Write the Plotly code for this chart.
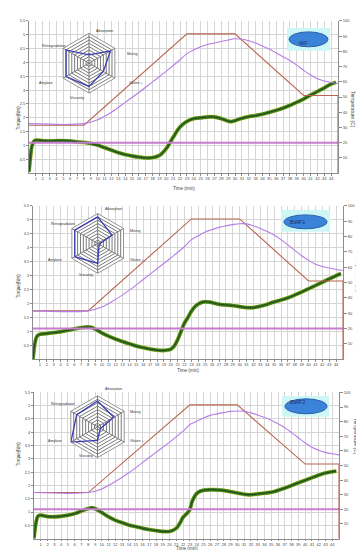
import plotly.graph_objects as go

W, H = 364, 550

# ---------------- data ----------------
MINUTE_TICKS = list(range(1, 45))
TORQUE_TICKS = [0.5, 1, 1.5, 2, 2.5, 3, 3.5, 4, 4.5, 5, 5.5]
TEMP_TICKS = [10, 20, 30, 40, 50, 60, 70, 80, 90, 100]

# temperature program (right axis, deg C)
PROG_T = [0, 8, 23, 30, 40, 45, 45]
PROG_C = [31.5, 31.5, 91.5, 91.5, 51, 51, 0]

# reference temperature line
REF_T = [0, 45]
REF_C = [20, 20]

# measured dough temperature (right axis)
MEAS_T = [0, 8, 10, 12, 14, 16, 18, 20, 22, 23, 24, 25, 26, 27, 28, 29, 30, 31, 32,
          33, 34, 35, 36, 37, 38, 39, 40, 41, 42, 43, 44, 45]
WF_MEAS = [32.5, 32.5, 35, 40, 46.5, 53, 60, 67, 74.5, 78.5, 81, 83, 84.5, 85.5, 86.5,
           87.5, 88.3, 88, 87, 85.5, 83.5, 81.5, 79, 76.5, 74, 71, 67.5, 64.5, 62, 60.5,
           59.5, 59]
BWF1_MEAS = [31.5, 31.5, 34, 39, 45, 52, 59, 66, 73.5, 78, 80.5, 83, 84.5, 86, 87, 87.8,
             88.4, 88.3, 87, 85.3, 83.3, 81, 78, 74.5, 71, 67.5, 64.5, 62, 60.5, 59.5,
             58.5, 58]
BWF2_MEAS = [31.5, 31.5, 34, 39, 45, 52, 59, 66, 73.5, 78, 80.3, 82.5, 84.3, 85.3, 86.2,
             87, 87.3, 87.2, 86, 84.5, 82.8, 81, 78.5, 75.8, 72.5, 69, 65.5, 62.5, 60.5,
             59, 58, 57.3]

# torque curves (left axis, Nm)
WF_T = [0, 0.2, 0.4, 0.7, 1, 2, 3, 4, 5, 6, 7, 8, 9, 10, 11, 12, 13, 14, 15, 16, 17, 18,
        19, 20, 21, 22, 23, 24, 25, 26, 27, 28, 29, 29.5, 30, 31, 32, 33, 34, 35, 36, 37,
        38, 39, 40, 41, 42, 43, 44, 44.7]
WF_TORQUE = [0.05, 0.55, 0.95, 1.15, 1.19, 1.17, 1.16, 1.17, 1.17, 1.16, 1.13, 1.11,
             1.07, 1.01, 0.92, 0.83, 0.74, 0.67, 0.62, 0.58, 0.55, 0.56, 0.64, 0.89, 1.3,
             1.67, 1.87, 1.97, 2.0, 2.03, 2.03, 1.97, 1.88, 1.86, 1.9, 1.98, 2.04, 2.08,
             2.13, 2.2, 2.27, 2.35, 2.45, 2.56, 2.68, 2.82, 2.95, 3.08, 3.22, 3.28]

BWF1_T = [0, 0.3, 0.6, 1, 2, 3, 4, 5, 6, 7, 8, 8.5, 9, 10, 11, 12, 13, 14, 15, 16, 17,
          18, 19, 20, 20.5, 21, 21.5, 22, 22.5, 23, 23.5, 24, 24.7, 25.5, 27, 29, 31,
          32, 33, 35, 37, 39, 41, 43, 44.7]
BWF1_TORQUE = [0.0, 0.6, 0.83, 0.89, 0.92, 0.95, 0.98, 1.03, 1.08, 1.13, 1.15, 1.14,
               1.08, 0.94, 0.82, 0.72, 0.63, 0.55, 0.47, 0.41, 0.36, 0.32, 0.31, 0.35,
               0.47, 0.7, 1.0, 1.3, 1.5, 1.72, 1.88, 1.98, 2.05, 2.05, 1.97, 1.92, 1.85,
               1.85, 1.9, 2.05, 2.2, 2.41, 2.64, 2.88, 3.07]

BWF2_T = [0, 0.3, 0.6, 1, 2, 3, 4, 5, 6, 7, 8, 8.5, 9, 10, 11, 12, 13, 14, 15, 16, 17,
          18, 19, 20, 21, 21.5, 22, 22.9, 23.4, 24.1, 25, 26.3, 27.8, 29.7, 31.7, 33.2,
          35.1, 37.1, 39, 41, 42.9, 44.6]
BWF2_TORQUE = [0.0, 0.6, 0.85, 0.88, 0.83, 0.82, 0.84, 0.88, 0.94, 1.04, 1.13, 1.16,
               1.13, 0.98, 0.82, 0.69, 0.6, 0.51, 0.45, 0.39, 0.34, 0.3, 0.27, 0.27,
               0.39, 0.57, 0.8, 1.05, 1.44, 1.72, 1.82, 1.84, 1.82, 1.73, 1.65, 1.69,
               1.75, 1.91, 2.1, 2.29, 2.46, 2.54]

# Mixolab profiler indices (radar insets)
PROFILE_AXES = ["Absorption", "Mixing", "Gluten +", "Viscosity", "Amylase", "Retrogradation"]
WF_PROFILE = [2.5, 7.5, 5, 7, 8, 8]
BWF1_PROFILE = [8, 5, 0.5, 6, 8, 8]
BWF2_PROFILE = [7.5, 5.5, 1, 4, 9, 7]

SAMPLE_NAMES = ["WF", "BWF1", "BWF2"]

# ---------------- styling / layout geometry (pixels) ----------------
FONT = "Liberation Sans"
GRID = "#d6d6d6"
AXIS = "#8c8c8c"
TXT = "#444444"
C_PROG = "#b8654f"
C_MEAS = "#b57ee6"
C_REF = "#c77ccf"

panels = [
    dict(name=SAMPLE_NAMES[0], x0=21, x1=330, top=10, bot=163,
         meas=WF_MEAS, tt=WF_T, tq=WF_TORQUE, prof=WF_PROFILE,
         cx=81, cy=52.5, R=30, ell=(281, 320, 21, 36), box=(279, 322, 17, 40),
         ttl_y=174.5, temp_ttl=(349, 79), torq_ttl=(7, 95)),
    dict(name=SAMPLE_NAMES[1], x0=25, x1=335, top=196, bot=350,
         meas=BWF1_MEAS, tt=BWF1_T, tq=BWF1_TORQUE, prof=BWF1_PROFILE,
         cx=89.7, cy=233.7, R=30, ell=(276, 319, 205, 219), box=(273, 322, 200, 222),
         ttl_y=361.5, temp_ttl=(354, 264), torq_ttl=(7, 277)),
    dict(name=SAMPLE_NAMES[2], x0=26, x1=331, top=383.5, bot=530.5,
         meas=BWF2_MEAS, tt=BWF2_T, tq=BWF2_TORQUE, prof=BWF2_PROFILE,
         cx=89.5, cy=418, R=31, ell=(277, 319, 390, 405), box=(274, 321, 387, 408),
         ttl_y=543.5, temp_ttl=(352, 447), torq_ttl=(7, 459)),
]

# radar label offsets (pixels relative to hexagon centre)
LABEL_OFF = {"Absorption": (6, -35), "Mixing": (37, -12), "Gluten +": (39, 17),
             "Viscosity": (-20, 32), "Amylase": (-51, 17), "Retrogradation": (-48, -20)}

fx = lambda px: px / W
fy = lambda py: 1 - py / H

fig = go.Figure()
layout = dict(width=W, height=H, margin=dict(l=0, r=0, t=0, b=0),
              paper_bgcolor="white", plot_bgcolor="white", showlegend=False,
              font=dict(family=FONT, size=4, color=TXT))
annotations = []
shapes = []

for i, p in enumerate(panels):
    xa = "x" if i == 0 else f"x{i+1}"
    yl = "y" if i == 0 else f"y{2*i+1}"
    yr = f"y{2*i+2}"
    xkey = "xaxis" if i == 0 else f"xaxis{i+1}"
    ylkey = "yaxis" if i == 0 else f"yaxis{2*i+1}"
    yrkey = f"yaxis{2*i+2}"

    layout[xkey] = dict(domain=[fx(p["x0"]), fx(p["x1"])], range=[0, 45], anchor=yl,
                        tickvals=MINUTE_TICKS, ticks="outside", ticklen=1.5, tickcolor=AXIS,
                        tickangle=0, tickfont=dict(size=4, color=TXT), showgrid=True,
                        gridcolor=GRID, gridwidth=1, showline=True, linecolor=AXIS,
                        linewidth=1, zeroline=False, fixedrange=True)
    layout[ylkey] = dict(domain=[fy(p["bot"]), fy(p["top"])], range=[0, 5.5], anchor=xa,
                         tickvals=TORQUE_TICKS, ticktext=[f"{v:g}" for v in TORQUE_TICKS],
                         ticks="outside", ticklen=2, tickcolor=AXIS,
                         tickfont=dict(size=4, color=TXT), showgrid=True, gridcolor=GRID,
                         showline=True, linecolor=AXIS, zeroline=False)
    layout[yrkey] = dict(overlaying=yl, side="right", anchor=xa, range=[0, 100],
                         tickvals=TEMP_TICKS, ticks="outside", ticklen=3, tickcolor=AXIS,
                         tickfont=dict(size=4, color=TXT), showgrid=False,
                         showline=True, linecolor=AXIS, zeroline=False)

    # reference line at 20 C
    fig.add_trace(go.Scatter(x=REF_T, y=REF_C, xaxis=xa, yaxis=yr, mode="lines",
                             line=dict(color=C_REF, width=2), hoverinfo="skip"))
    # program & measured temperature
    fig.add_trace(go.Scatter(x=PROG_T, y=PROG_C, xaxis=xa, yaxis=yr, mode="lines",
                             line=dict(color=C_PROG, width=1.1), hoverinfo="skip"))
    fig.add_trace(go.Scatter(x=MEAS_T, y=p["meas"], xaxis=xa, yaxis=yr, mode="lines",
                             line=dict(color=C_MEAS, width=1.1, shape="spline"),
                             hoverinfo="skip"))
    # torque curve
    fig.add_trace(go.Scatter(x=p["tt"], y=p["tq"], xaxis=xa, yaxis=yl, mode="lines",
                             line=dict(color="#d6e05a", width=4.2, shape="spline"),
                             hoverinfo="skip"))
    fig.add_trace(go.Scatter(x=p["tt"], y=p["tq"], xaxis=xa, yaxis=yl, mode="lines",
                             line=dict(color="#3f7f22", width=3.4, shape="spline"),
                             hoverinfo="skip"))
    fig.add_trace(go.Scatter(x=p["tt"], y=p["tq"], xaxis=xa, yaxis=yl, mode="lines",
                             line=dict(color="#22431a", width=1, shape="spline"),
                             hoverinfo="skip"))

    # radar inset
    pk = "polar" if i == 0 else f"polar{i+1}"
    cx, cy, R = p["cx"], p["cy"], p["R"]
    layout[pk] = dict(domain=dict(x=[fx(cx - R), fx(cx + R)], y=[fy(cy + R), fy(cy - R)]),
                      gridshape="linear", bgcolor="white",
                      radialaxis=dict(range=[0, 9], dtick=1, showticklabels=False,
                                      ticks="", showline=False, gridcolor="#7a7a7a",
                                      gridwidth=0.7),
                      angularaxis=dict(direction="clockwise", rotation=90,
                                       showticklabels=False, ticks="",
                                       gridcolor="#7a7a7a", linecolor="#7a7a7a",
                                       linewidth=0.8))
    fig.add_trace(go.Scatterpolar(r=p["prof"] + p["prof"][:1],
                                  theta=PROFILE_AXES + PROFILE_AXES[:1],
                                  subplot=pk, mode="lines",
                                  line=dict(color="#3c3cb4", width=1.3),
                                  hoverinfo="skip"))
    for lab in PROFILE_AXES:
        dx, dy = LABEL_OFF[lab]
        annotations.append(dict(x=fx(cx + dx), y=fy(cy + dy), xref="paper", yref="paper",
                                text=lab, showarrow=False, borderpad=0,
                                font=dict(size=3.6, color="#333333", family=FONT)))

    # sample label ellipse
    bx0, bx1, by0, by1 = p["box"]
    shapes.append(dict(type="rect", xref="paper", yref="paper", x0=fx(bx0), x1=fx(bx1),
                       y0=fy(by1), y1=fy(by0), fillcolor="#cdf6f6",
                       line=dict(width=0), layer="above"))
    ex0, ex1, ey0, ey1 = p["ell"]
    shapes.append(dict(type="circle", xref="paper", yref="paper", x0=fx(ex0), x1=fx(ex1),
                       y0=fy(ey1), y1=fy(ey0), fillcolor="#3b83d9",
                       line=dict(color="#2b5fa6", width=1), layer="above"))
    annotations.append(dict(x=fx((ex0 + ex1) / 2), y=fy((ey0 + ey1) / 2), xref="paper",
                            yref="paper", text=p["name"], showarrow=False, borderpad=0,
                            font=dict(size=5.5, color="#1b2c68", family=FONT)))

    # axis titles
    annotations.append(dict(x=fx((p["x0"] + p["x1"]) / 2), y=fy(p["ttl_y"]),
                            xref="paper", yref="paper", text="Time (min)", borderpad=0,
                            showarrow=False, font=dict(size=4.6, color=TXT, family=FONT)))
    tx, ty = p["temp_ttl"]
    annotations.append(dict(x=fx(tx), y=fy(ty), xref="paper", yref="paper", borderpad=0,
                            text="Temperature (C)", textangle=90, showarrow=False,
                            font=dict(size=5, color=TXT, family=FONT)))
    qx, qy = p["torq_ttl"]
    annotations.append(dict(x=fx(qx), y=fy(qy), xref="paper", yref="paper", borderpad=0,
                            text="Torque(Nm)", textangle=-90, showarrow=False,
                            font=dict(size=4.5, color=TXT, family=FONT)))

layout["annotations"] = annotations
layout["shapes"] = shapes
fig.update_layout(**layout)
fig.write_html("out.html")
